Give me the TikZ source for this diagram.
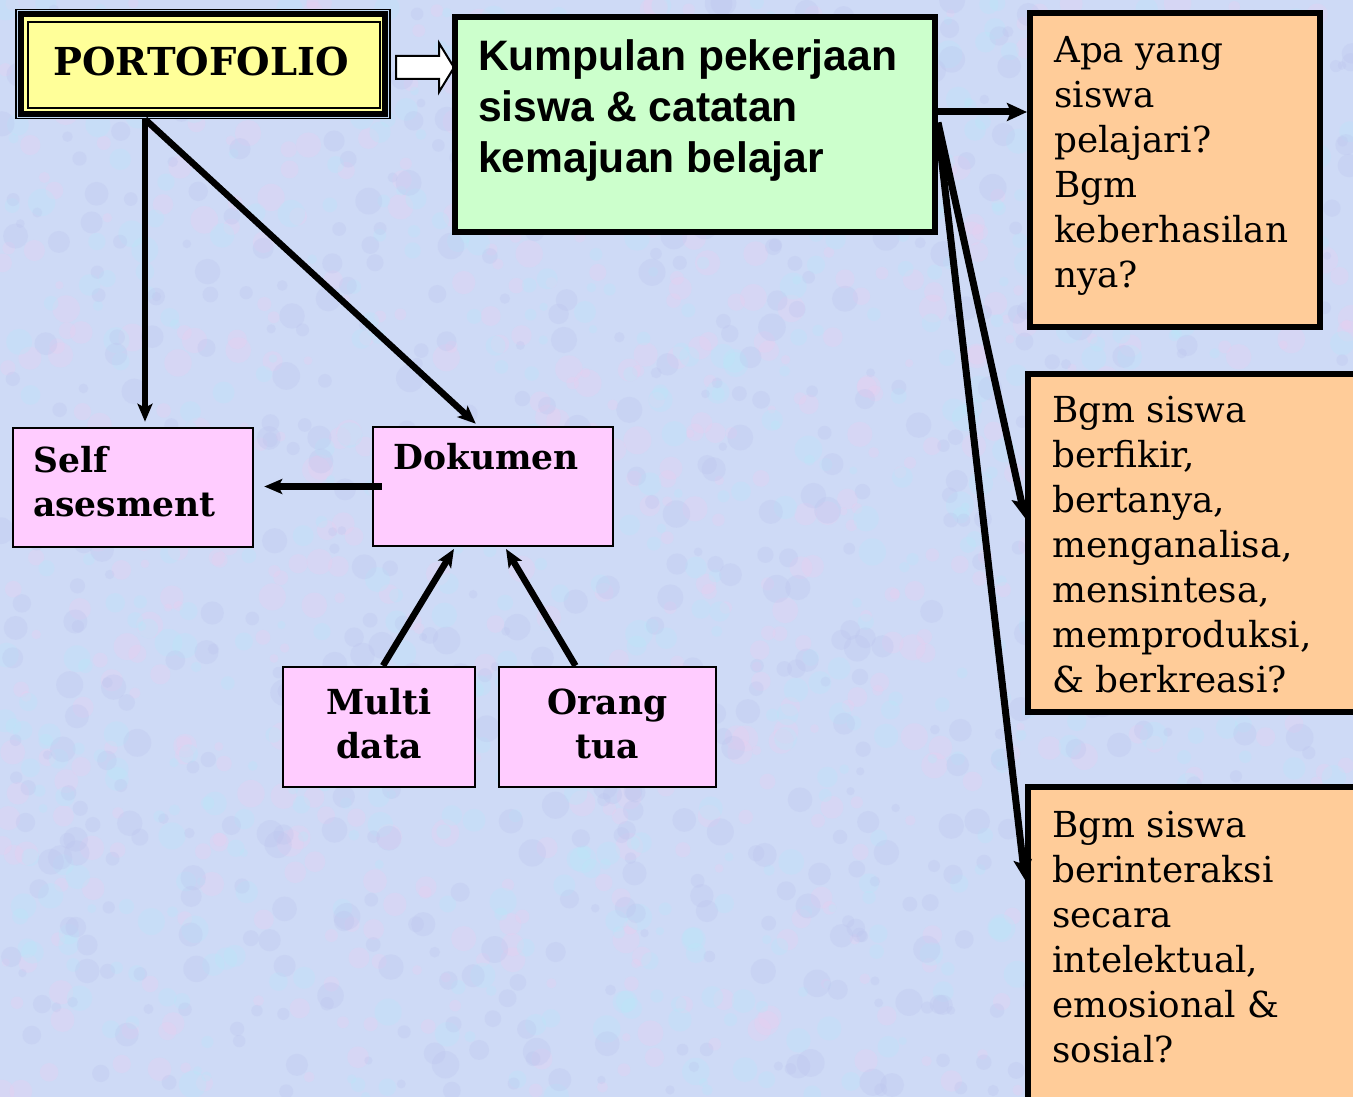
\documentclass[tikz,border=0pt]{standalone}
\usepackage{fontspec}
\setmainfont{DejaVu Serif}
\newfontfamily\arialfont{Liberation Sans}
\usetikzlibrary{arrows.meta,calc}
\definecolor{bgc}{RGB}{206,218,246}
\definecolor{bgpink}{RGB}{236,204,240}
\definecolor{bgcyan}{RGB}{184,232,250}
\definecolor{bglav}{RGB}{188,196,238}
\definecolor{pfblue}{RGB}{190,215,242}
\definecolor{yel}{RGB}{255,255,153}
\definecolor{grn}{RGB}{204,255,204}
\definecolor{org}{RGB}{255,204,153}
\definecolor{pnk}{RGB}{255,204,255}
\tikzset{
  pinkbox/.style={draw=black, line width=2.5, fill=pnk, inner sep=0},
  orgbox/.style={draw=black, line width=6, fill=org, inner sep=0},
  grnbox/.style={draw=black, line width=6, fill=grn, inner sep=0},
  pfframe/.style={draw=black, line width=1.5, fill=pfblue, inner sep=0},
  arrA/.style={line width=6.5pt, -{Stealth[length=18pt,width=15pt,inset=4pt]}},
  arrB/.style={line width=7pt, -{Stealth[length=20pt,width=18pt,inset=4pt]}},
  boldtxt/.style={font=\bfseries\fontsize{34.5}{44}\selectfont, inner sep=0},
  orgtxt/.style={font=\fontsize{35.8}{45}\selectfont, inner sep=0, anchor=north west, align=left},
  grntxt/.style={font=\arialfont\bfseries\fontsize{42.6}{51}\selectfont, inner sep=0, anchor=north west, align=left},
}
\begin{document}
\begin{tikzpicture}[x=1pt,y=-1pt]
\useasboundingbox (0,0) rectangle (1353,1097);
% background
\fill[bgc] (0,0) rectangle (1353,1097);
\pgfmathsetseed{11}
\foreach \col in {bgpink,bgcyan,bglav}{
  \foreach \i in {1,...,700}{
    \fill[\col, opacity=0.28] (rnd*1353, rnd*1097) circle[radius=4+rnd*10];
  }
}
% PORTOFOLIO
\node[pfframe, minimum width=374, minimum height=109] (portfolio) at (203,64) {};
\draw[line width=6, fill=yel] ([shift={(5.5,5.5)}]portfolio.north west) rectangle ([shift={(-5.5,-5.5)}]portfolio.south east);
\draw[line width=2] ([shift={(12.5,13)}]portfolio.north west) rectangle ([shift={(-10.5,-11)}]portfolio.south east);
\node[font=\bfseries\fontsize{38.5}{44}\selectfont, inner sep=0] (pftext) at (201,61) {PORTOFOLIO};
% hollow arrow
\draw[line width=2, fill=white, line join=miter] (396,56) -- (439,56) -- (439,43) -- (454,67.5) -- (439,92) -- (439,79) -- (396,79) -- cycle;
% green box
\node[grnbox, minimum width=480, minimum height=215] (green) at (695,124.5) {};
\node[grntxt] (greentxt) at (478,39) {Kumpulan pekerjaan\\siswa \& catatan\\kemajuan belajar};
% orange boxes
\node[orgbox, minimum width=290, minimum height=314] (org1) at (1175,170) {};
\node[orgtxt] (org1txt) at (1054,36) {Apa yang\\siswa\\pelajari?\\Bgm\\keberhasilan\\nya?};
\node[orgbox, minimum width=352, minimum height=338] (org2) at (1204,543) {};
\node[orgtxt] (org2txt) at (1052,396) {Bgm siswa\\berfikir,\\bertanya,\\menganalisa,\\mensintesa,\\memproduksi,\\\& berkreasi?};
\node[orgbox, minimum width=352, minimum height=333] (org3) at (1204,953.5) {};
\node[orgtxt] (org3txt) at (1052,811) {Bgm siswa\\berinteraksi\\secara\\intelektual,\\emosional \&\\sosial?};
% pink boxes
\node[pinkbox, minimum width=240, minimum height=119] (self) at (133,487.5) {};
\node[boldtxt, anchor=north west, align=left] (selftxt) at (33,446) {Self\\asesment};
\node[pinkbox, minimum width=240, minimum height=119] (dok) at (493,486.5) {};
\node[boldtxt, anchor=north west] (doktxt) at (393,443) {Dokumen};
\node[pinkbox, minimum width=192, minimum height=120] (multi) at (379,727) {};
\node[boldtxt, align=center] (multitxt) at (379,724) {Multi\\data};
\node[pinkbox, minimum width=217, minimum height=120] (orang) at (607.5,727) {};
\node[boldtxt, align=center] (orangtxt) at (607.5,724) {Orang\\tua};
% connectors
\draw[arrA, shorten >=5] ([xshift=-58]portfolio.south) -- ([xshift=12]self.north);
\draw[arrA, shorten >=3] ([xshift=-58]portfolio.south) -- ([xshift=-15]dok.north);
\draw[arrA, shorten >=10] ([xshift=10]dok.west) -- (self.east |- dok.west);
\draw[arrA, shorten >=2] ([xshift=4]multi.north) -- ([xshift=-38]dok.south);
\draw[arrA, shorten >=2] ([xshift=-32]orang.north) -- ([xshift=12]dok.south);
\draw[arrB] ([yshift=12.5]green.east) -- ([yshift=12.5]green.east -| org1.west);
\draw[arrB] ([yshift=2]green.east) -- ([yshift=25]org2.west);
\draw[arrB] ([yshift=-4]green.east) -- ([yshift=73.5]org3.west);
\end{tikzpicture}
\end{document}
